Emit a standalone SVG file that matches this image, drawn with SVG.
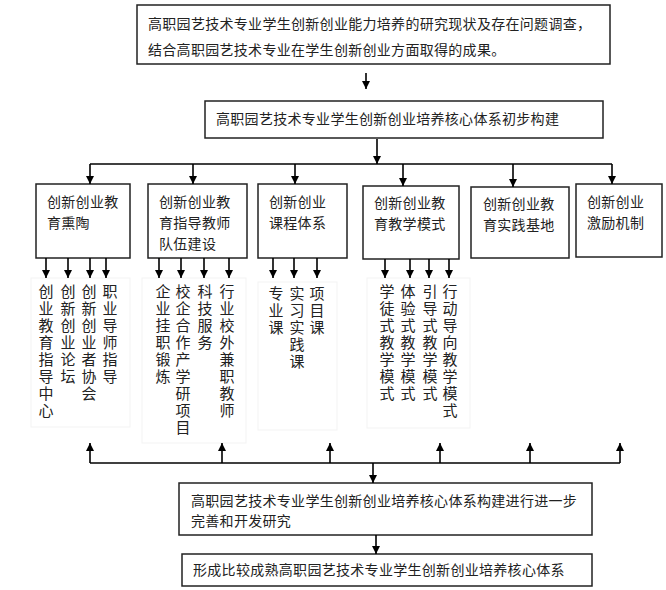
<svg xmlns="http://www.w3.org/2000/svg" width="666" height="590" viewBox="0 0 666 590">
<defs>
<marker id="ah" markerUnits="userSpaceOnUse" markerWidth="8" markerHeight="8" refX="8" refY="4" orient="auto">
<path d="M0,0 L8,4 L0,8 z" fill="#000"/>
</marker>
<style>
.box{fill:#fff;stroke:#222;stroke-width:1.5}
.fbox{fill:none;stroke:#f3f3f3;stroke-width:1}
.t{font-family:"Noto Sans CJK SC","Noto Sans",sans-serif;font-size:14px;fill:#222;letter-spacing:0.3px}
.v{font-family:"Noto Sans CJK SC","Noto Sans",sans-serif;font-size:15px;fill:#222;writing-mode:vertical-rl;letter-spacing:2px}
.c{stroke:#000;stroke-width:1.6;fill:none}
.a{stroke:#000;stroke-width:1.6;fill:none;marker-end:url(#ah)}
</style>
</defs>
<rect width="666" height="590" fill="#fff"/>

<g id="n-top">
<rect class="box" x="137" y="5" width="473" height="59"/>
<text class="t" x="148" y="29">高职园艺技术专业学生创新创业能力培养的研究现状及存在问题调查，</text>
<text class="t" x="148" y="55">结合高职园艺技术专业在学生创新创业方面取得的成果。</text>
</g>

<g id="n-core">
<rect class="box" x="205" y="101" width="398" height="37"/>
<text class="t" x="216" y="124">高职园艺技术专业学生创新创业培养核心体系初步构建</text>
</g>

<g id="n-b1">
<rect class="box" x="36" y="184" width="94" height="74"/>
<text class="t" x="47" y="207">创新创业教</text>
<text class="t" x="47" y="228">育熏陶</text>
</g>
<g id="n-b2">
<rect class="box" x="148" y="184" width="99" height="74"/>
<text class="t" x="159" y="207">创新创业教</text>
<text class="t" x="159" y="228">育指导教师</text>
<text class="t" x="159" y="249">队伍建设</text>
</g>
<g id="n-b3">
<rect class="box" x="258" y="184" width="89" height="74"/>
<text class="t" x="269" y="207">创新创业</text>
<text class="t" x="269" y="228">课程体系</text>
</g>
<g id="n-b4">
<rect class="box" x="363" y="186" width="96" height="73"/>
<text class="t" x="374" y="208">创新创业教</text>
<text class="t" x="374" y="229">育教学模式</text>
</g>
<g id="n-b5">
<rect class="box" x="471" y="187" width="98" height="71"/>
<text class="t" x="483" y="209">创新创业教</text>
<text class="t" x="483" y="230">育实践基地</text>
</g>
<g id="n-b6">
<rect class="box" x="576" y="184" width="86" height="73"/>
<text class="t" x="587" y="207">创新创业</text>
<text class="t" x="587" y="228">激励机制</text>
</g>

<g id="n-col1">
<rect class="fbox" x="31" y="278" width="99" height="149"/>
<text class="v" x="46" y="284">创业教育指导中心</text>
<text class="v" x="68" y="284">创新创业论坛</text>
<text class="v" x="89" y="284">创新创业者协会</text>
<text class="v" x="110" y="284">职业导师指导</text>
</g>
<g id="n-col2">
<rect class="fbox" x="142" y="278" width="104" height="165"/>
<text class="v" x="163" y="284">企业挂职锻炼</text>
<text class="v" x="183" y="284">校企合作产学研项目</text>
<text class="v" x="205" y="284">科技服务</text>
<text class="v" x="227" y="284">行业校外兼职教师</text>
</g>
<g id="n-col3">
<rect class="fbox" x="258" y="282" width="79" height="148"/>
<text class="v" x="276" y="286">专业课</text>
<text class="v" x="297" y="286">实习实践课</text>
<text class="v" x="317" y="286">项目课</text>
</g>
<g id="n-col4">
<rect class="fbox" x="367" y="278" width="103" height="150"/>
<text class="v" x="387" y="284">学徒式教学模式</text>
<text class="v" x="408" y="284">体验式教学模式</text>
<text class="v" x="430" y="284">引导式教学模式</text>
<text class="v" x="450" y="284">行动导向教学模式</text>
</g>

<g id="n-improve">
<rect class="box" x="179" y="483" width="413" height="52"/>
<text class="t" x="191" y="506">高职园艺技术专业学生创新创业培养核心体系构建进行进一步</text>
<text class="t" x="191" y="526">完善和开发研究</text>
</g>
<g id="n-final">
<rect class="box" x="182" y="554" width="410" height="32"/>
<text class="t" x="193" y="575">形成比较成熟高职园艺技术专业学生创新创业培养核心体系</text>
</g>

<g id="connectors">
<line class="a" x1="366" y1="73" x2="366" y2="89"/>
<line class="a" x1="377" y1="139" x2="377" y2="164"/>
<line class="c" x1="90" y1="164" x2="612" y2="164"/>
<line class="a" x1="90" y1="164" x2="90" y2="184"/>
<line class="a" x1="193" y1="164" x2="193" y2="184"/>
<line class="a" x1="295" y1="164" x2="295" y2="184"/>
<line class="a" x1="403" y1="164" x2="403" y2="186"/>
<line class="a" x1="513" y1="164" x2="513" y2="187"/>
<line class="a" x1="612" y1="164" x2="612" y2="184"/>

<line class="a" x1="46" y1="258" x2="46" y2="278"/>
<line class="a" x1="68" y1="258" x2="68" y2="278"/>
<line class="a" x1="90" y1="258" x2="90" y2="278"/>
<line class="a" x1="106" y1="258" x2="106" y2="278"/>
<line class="a" x1="159" y1="258" x2="159" y2="278"/>
<line class="a" x1="181" y1="258" x2="181" y2="278"/>
<line class="a" x1="204" y1="258" x2="204" y2="278"/>
<line class="a" x1="229" y1="258" x2="229" y2="278"/>
<line class="a" x1="273" y1="258" x2="273" y2="278"/>
<line class="a" x1="294" y1="258" x2="294" y2="278"/>
<line class="a" x1="317" y1="258" x2="317" y2="278"/>
<line class="a" x1="385" y1="259" x2="385" y2="278"/>
<line class="a" x1="410" y1="259" x2="410" y2="278"/>
<line class="a" x1="429" y1="259" x2="429" y2="278"/>
<line class="a" x1="449" y1="259" x2="449" y2="278"/>

<line class="c" x1="90" y1="463" x2="620" y2="463"/>
<line class="a" x1="90" y1="463" x2="90" y2="443"/>
<line class="a" x1="222" y1="463" x2="222" y2="443"/>
<line class="a" x1="330" y1="463" x2="330" y2="443"/>
<line class="a" x1="440" y1="463" x2="440" y2="443"/>
<line class="a" x1="530" y1="463" x2="530" y2="443"/>
<line class="a" x1="620" y1="463" x2="620" y2="443"/>
<line class="a" x1="373" y1="463" x2="373" y2="483"/>
<line class="a" x1="376" y1="535" x2="376" y2="554"/>
</g>
</svg>
